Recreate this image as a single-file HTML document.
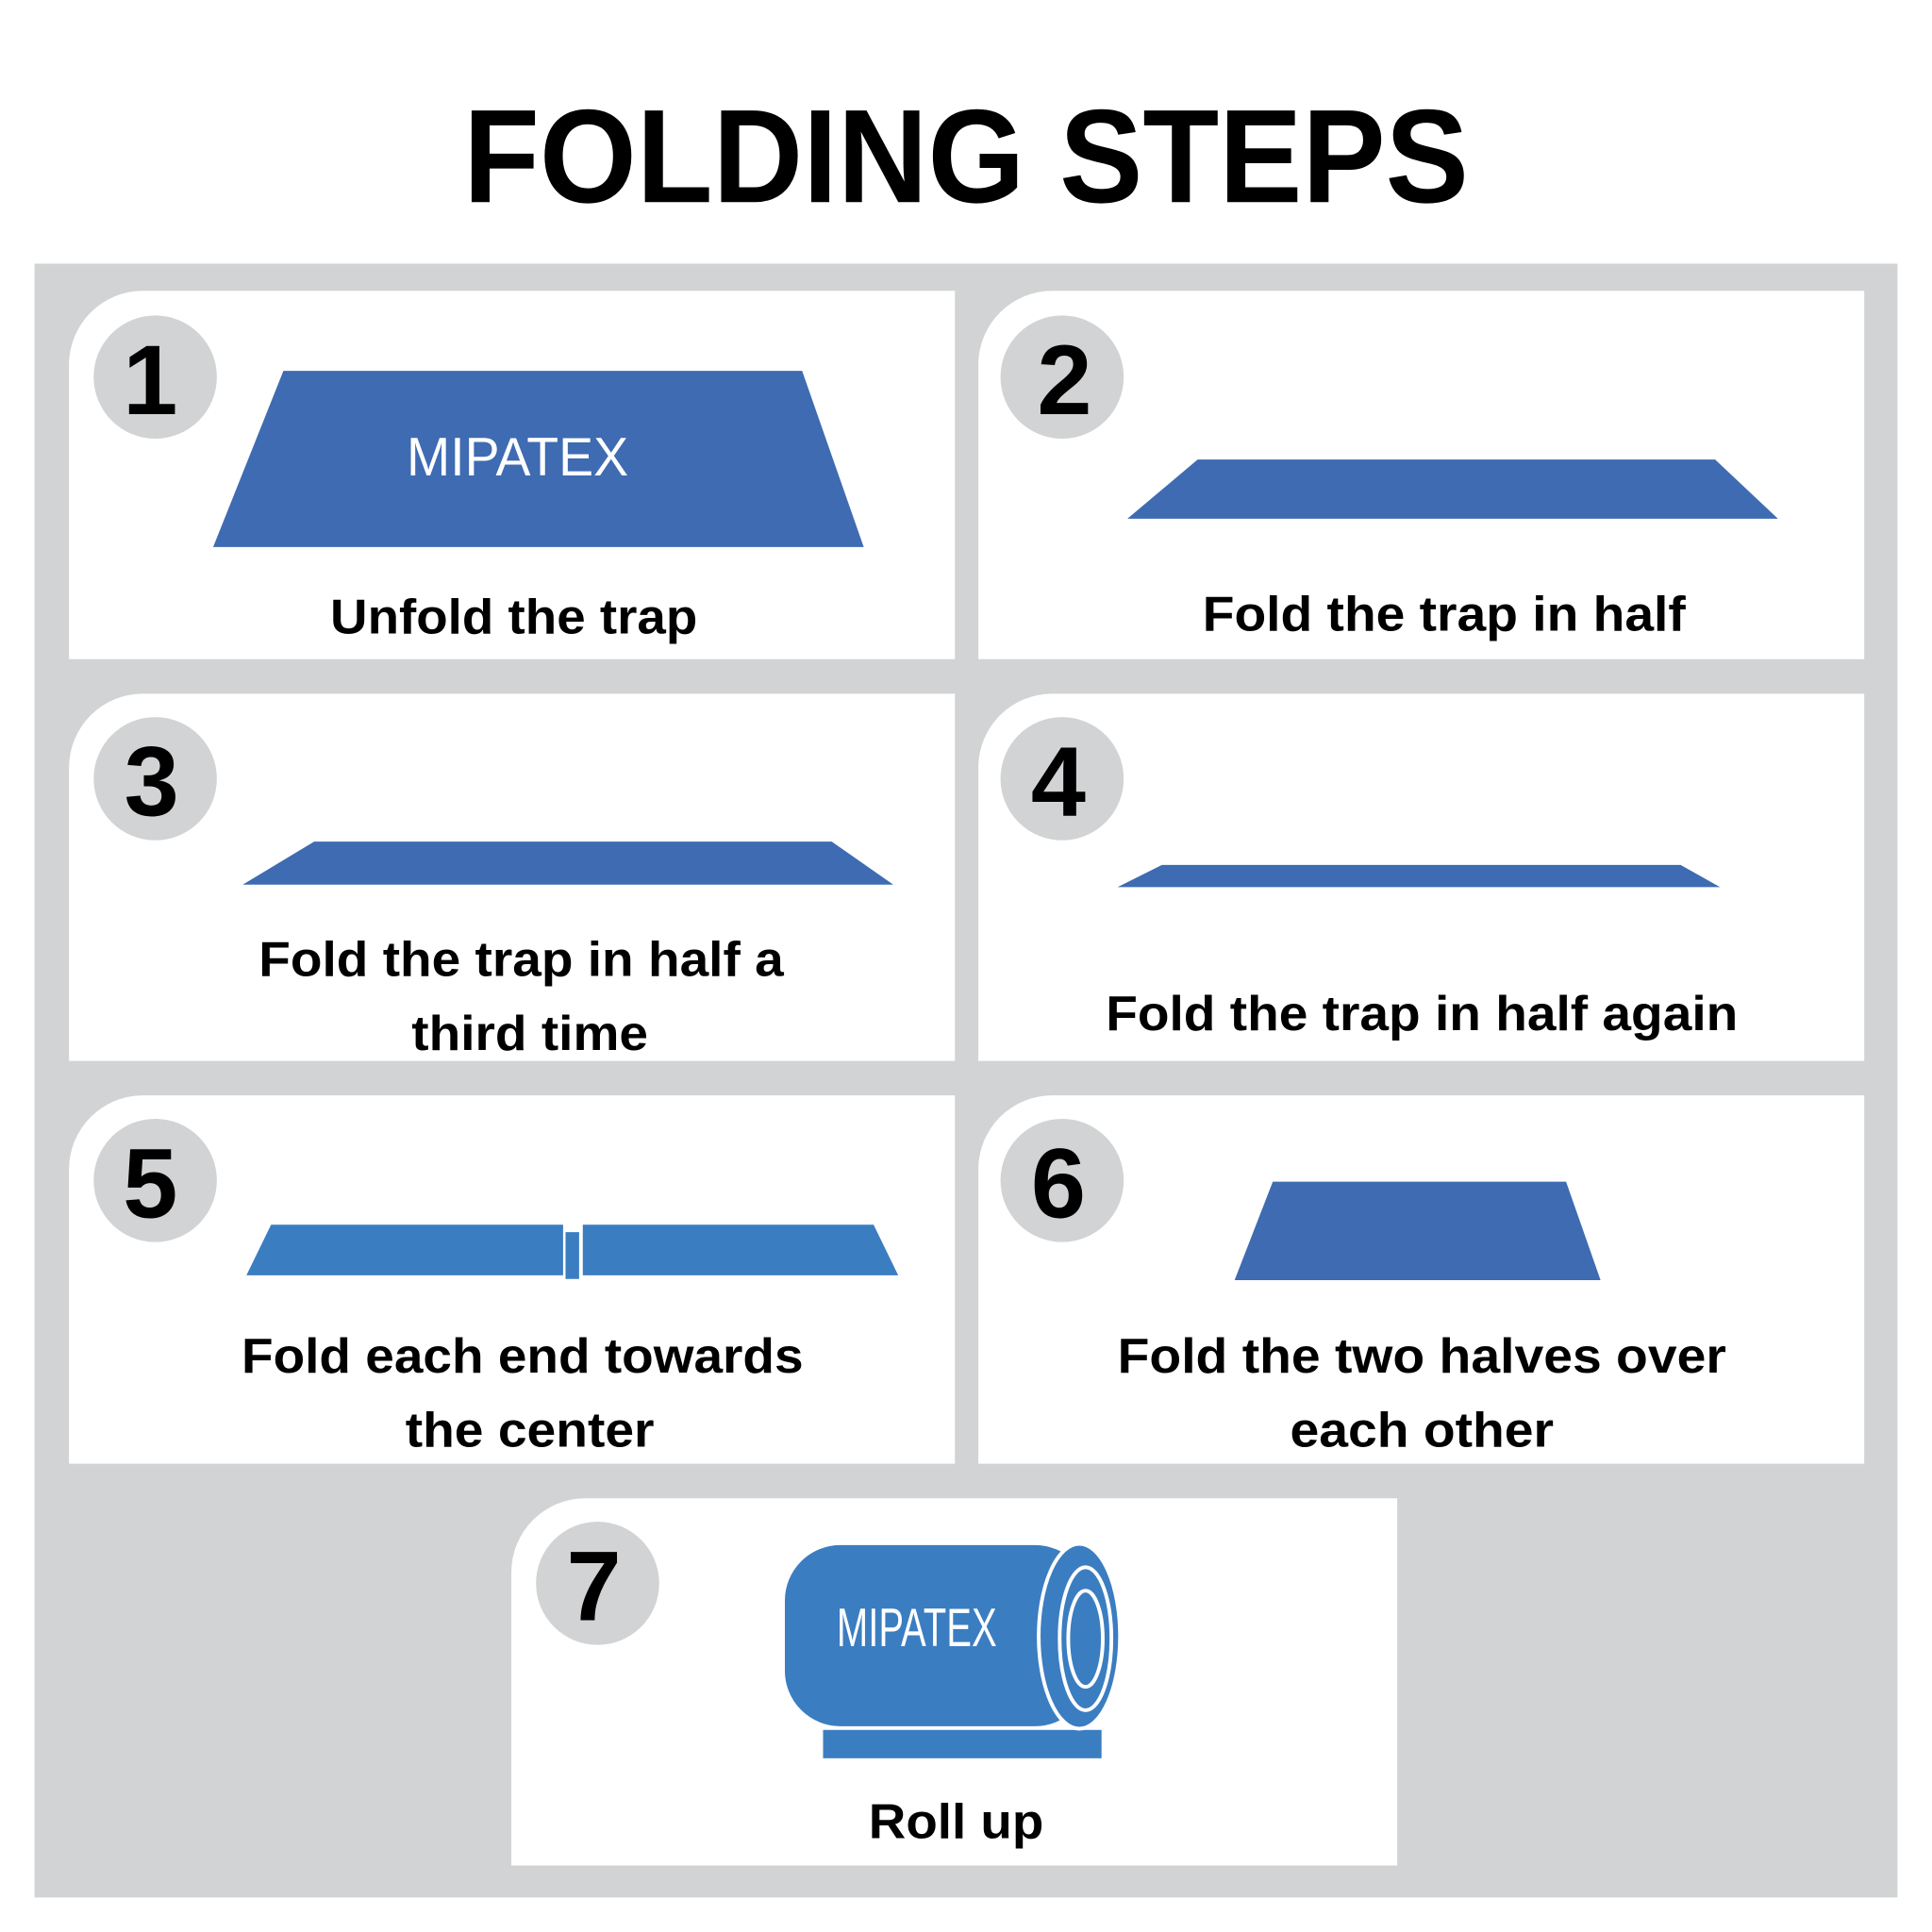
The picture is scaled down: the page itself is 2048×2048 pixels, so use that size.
<!DOCTYPE html>
<html><head><meta charset="utf-8"><style>
html,body{margin:0;padding:0;background:#fff;width:2048px;height:2048px;overflow:hidden}
svg{display:block}
text{font-family:"Liberation Sans",Arial,sans-serif}
.cap{font-weight:bold;font-size:40px;fill:#000;text-anchor:middle}
.num{font-weight:bold;font-size:80px;fill:#000;text-anchor:middle}
.brand{font-size:44px;fill:#fff;text-anchor:middle}
</style></head><body>
<svg width="2048" height="2048" viewBox="0 0 1568 1568">
<text x="784" y="164" text-anchor="middle" font-weight="bold" font-size="108" textLength="816" lengthAdjust="spacingAndGlyphs">FOLDING STEPS</text>
<rect x="28" y="214" width="1512" height="1326" fill="#d1d3d4"/>

<g>
<path d="M56,296 A60,60 0 0 1 116,236 H775 V535 H56 Z" fill="#fff"/>
<circle cx="126" cy="306" r="50" fill="#d1d3d4"/>
<text class="num" x="122" y="336">1</text>
<polygon points="230,301 651,301 701,444 173,444" fill="#3e6bb2"/>
<text class="brand" x="420" y="386" textLength="180" lengthAdjust="spacingAndGlyphs">MIPATEX</text>
<text class="cap" x="417" y="514" textLength="298" lengthAdjust="spacingAndGlyphs">Unfold the trap</text>
</g>

<g>
<path d="M794,296 A60,60 0 0 1 854,236 H1513 V535 H794 Z" fill="#fff"/>
<circle cx="862" cy="306" r="50" fill="#d1d3d4"/>
<text class="num" x="864" y="336">2</text>
<polygon points="972,373 1392,373 1443,421 915,421" fill="#3e6bb2"/>
<text class="cap" x="1172" y="512" textLength="392" lengthAdjust="spacingAndGlyphs">Fold the trap in half</text>
</g>

<g>
<path d="M56,623 A60,60 0 0 1 116,563 H775 V861 H56 Z" fill="#fff"/>
<circle cx="126" cy="632" r="50" fill="#d1d3d4"/>
<text class="num" x="123" y="662">3</text>
<polygon points="255,683 675,683 725,718 197,718" fill="#3e6bb2"/>
<text class="cap" x="423" y="792" textLength="426" lengthAdjust="spacingAndGlyphs">Fold the trap in half a</text>
<text class="cap" x="430" y="852" textLength="192" lengthAdjust="spacingAndGlyphs">third time</text>
</g>

<g>
<path d="M794,623 A60,60 0 0 1 854,563 H1513 V861 H794 Z" fill="#fff"/>
<circle cx="862" cy="632" r="50" fill="#d1d3d4"/>
<text class="num" x="859" y="662">4</text>
<polygon points="943,702 1364,702 1396,720 907,720" fill="#3e6bb2"/>
<text class="cap" x="1154" y="836" textLength="513" lengthAdjust="spacingAndGlyphs">Fold the trap in half again</text>
</g>

<g>
<path d="M56,949 A60,60 0 0 1 116,889 H775 V1188 H56 Z" fill="#fff"/>
<circle cx="126" cy="958" r="50" fill="#d1d3d4"/>
<text class="num" x="122" y="988">5</text>
<polygon points="220,994 457,994 457,1035 200,1035" fill="#3b7dc1"/>
<polygon points="473,994 709,994 729,1035 473,1035" fill="#3b7dc1"/>
<rect x="459" y="1000" width="11" height="38" fill="#3b7dc1"/>
<text class="cap" x="424" y="1114" textLength="456" lengthAdjust="spacingAndGlyphs">Fold each end towards</text>
<text class="cap" x="430" y="1174" textLength="202" lengthAdjust="spacingAndGlyphs">the center</text>
</g>

<g>
<path d="M794,949 A60,60 0 0 1 854,889 H1513 V1188 H794 Z" fill="#fff"/>
<circle cx="862" cy="958" r="50" fill="#d1d3d4"/>
<text class="num" x="859" y="988">6</text>
<polygon points="1033,959 1271,959 1299,1039 1002,1039" fill="#3e6bb2"/>
<text class="cap" x="1154" y="1114" textLength="494" lengthAdjust="spacingAndGlyphs">Fold the two halves over</text>
<text class="cap" x="1154" y="1174" textLength="214" lengthAdjust="spacingAndGlyphs">each other</text>
</g>

<g>
<path d="M415,1276 A60,60 0 0 1 475,1216 H1134 V1514 H415 Z" fill="#fff"/>
<circle cx="485" cy="1285" r="50" fill="#d1d3d4"/>
<text class="num" x="482" y="1315">7</text>
<rect x="668" y="1404" width="226" height="23" fill="#3b7dc1"/>
<rect x="636" y="1253" width="250" height="149" rx="46" fill="#3b7dc1" stroke="#fff" stroke-width="2"/>
<ellipse cx="876" cy="1328" rx="33" ry="75" fill="#3b7dc1" stroke="#fff" stroke-width="3"/>
<ellipse cx="881" cy="1330" rx="21" ry="58" fill="none" stroke="#fff" stroke-width="3"/>
<ellipse cx="881" cy="1330" rx="14" ry="39" fill="none" stroke="#fff" stroke-width="3"/>
<text class="brand" x="744" y="1336" font-size="34" textLength="130" lengthAdjust="spacingAndGlyphs">MIPATEX</text>
<text class="cap" x="776" y="1492" textLength="142" lengthAdjust="spacingAndGlyphs">Roll up</text>
</g>
</svg>
</body></html>
